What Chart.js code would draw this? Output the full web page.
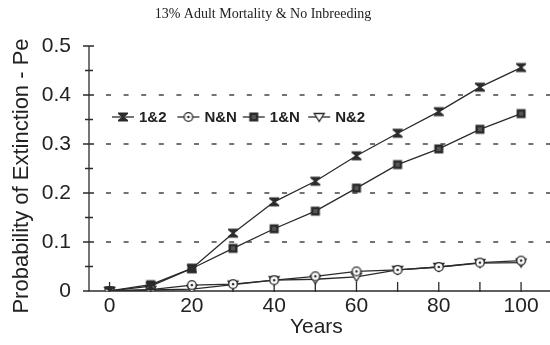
<!DOCTYPE html>
<html>
<head>
<meta charset="utf-8">
<script src="https://cdn.jsdelivr.net/npm/chart.js@4.4.1/dist/chart.umd.min.js"></script>
<style>
  html, body { margin: 0; padding: 0; background: #ffffff; }
  #wrap { width: 550px; height: 345px; }
</style>
</head>
<body>
<div id="wrap"><canvas id="c" width="550" height="345"></canvas></div>
<script>
// Simulation time points (years)
const years = [0, 10, 20, 30, 40, 50, 60, 70, 80, 90, 100];

// Probability of extinction per scenario
const pe12 = [0, 0.010, 0.046, 0.118, 0.182, 0.224, 0.276, 0.322, 0.366, 0.416, 0.456];
const peNN = [0, 0.003, 0.012, 0.014, 0.022, 0.030, 0.040, 0.043, 0.049, 0.058, 0.062];
const pe1N = [0, 0.013, 0.046, 0.087, 0.127, 0.163, 0.210, 0.258, 0.290, 0.330, 0.362];
const peN2 = [0, 0.002, 0.004, 0.013, 0.022, 0.024, 0.029, 0.043, 0.049, 0.057, 0.058];

const seriesNames = ['1&2', 'N&N', '1&N', 'N&2'];

// Axis ticks
const xTicks = [0, 20, 40, 60, 80, 100];
const xMinorTicks = [0, 10, 20, 30, 40, 50, 60, 70, 80, 90, 100];
const yTicks = [0, 0.1, 0.2, 0.3, 0.4, 0.5];
const yMinorTicks = [0.05, 0.15, 0.25, 0.35, 0.45];
const yGridLines = [0.1, 0.2, 0.3, 0.4];

const chartTitle = '13% Adult Mortality & No Inbreeding';
const xTitle = 'Years';
const yTitle = 'Probability of Extinction - Pe';

const INK = '#2b2b2b';
const SANS = '"Liberation Sans", Arial, Helvetica, sans-serif';

// Marker images
function makeMarker(kind) {
  const s = 14;
  const cv = document.createElement('canvas');
  cv.width = s; cv.height = s;
  const g = cv.getContext('2d');
  g.translate(s / 2, s / 2);
  g.lineWidth = 1.3;
  g.strokeStyle = INK;
  g.fillStyle = INK;
  if (kind === 'hourglass') {
    g.beginPath();
    g.moveTo(-5, -4.5); g.lineTo(5, -4.5); g.lineTo(5, -3); g.lineTo(1.2, 0);
    g.lineTo(5, 3); g.lineTo(5, 4.5); g.lineTo(-5, 4.5); g.lineTo(-5, 3);
    g.lineTo(-1.2, 0); g.lineTo(-5, -3); g.closePath();
    g.fill();
  } else if (kind === 'circle') {
    g.fillStyle = '#ffffff';
    g.beginPath(); g.arc(0, 0, 4.3, 0, Math.PI * 2); g.fill(); g.stroke();
    g.fillStyle = INK;
    g.beginPath(); g.arc(0, 0, 1.3, 0, Math.PI * 2); g.fill();
  } else if (kind === 'square') {
    g.fillRect(-4.5, -4.5, 9, 9);
    g.fillStyle = '#555';
    g.fillRect(-2, -2, 4, 4);
  } else if (kind === 'triangle') {
    g.fillStyle = '#ffffff';
    g.beginPath();
    g.moveTo(-5, -3.5); g.lineTo(5, -3.5); g.lineTo(0, 4.5); g.closePath();
    g.fill(); g.stroke();
  }
  return cv;
}

const markers = [makeMarker('hourglass'), makeMarker('circle'), makeMarker('square'), makeMarker('triangle')];
const seriesValues = [pe12, peNN, pe1N, peN2];

const datasets = seriesNames.map((name, i) => ({
  label: name,
  data: years.map((x, k) => ({ x: x, y: seriesValues[i][k] })),
  borderColor: INK,
  borderWidth: 1.3,
  pointStyle: markers[i],
  pointRadius: 5,
  pointHoverRadius: 5,
  fill: false,
  tension: 0
}));

// Axes, dashed reference lines, tick marks, titles and in-plot legend
const decorations = {
  id: 'decorations',
  beforeDatasetsDraw(chart) {
    const { ctx, chartArea, scales } = chart;
    const xs = scales.x, ys = scales.y;
    const x0 = chartArea.left, y0 = ys.getPixelForValue(0);
    ctx.save();
    // dashed horizontal lines
    ctx.strokeStyle = '#444';
    ctx.lineWidth = 1.5;
    ctx.setLineDash([5, 12.6]);
    yGridLines.forEach(v => {
      const y = ys.getPixelForValue(v);
      ctx.beginPath(); ctx.moveTo(x0 + 17, y); ctx.lineTo(chart.width, y); ctx.stroke();
    });
    ctx.setLineDash([]);
    // axis lines
    ctx.strokeStyle = INK;
    ctx.lineWidth = 1.3;
    ctx.beginPath();
    ctx.moveTo(x0, ys.getPixelForValue(0.5));
    ctx.lineTo(x0, y0);
    ctx.lineTo(chart.width, y0);
    ctx.stroke();
    // y ticks (crossing the axis)
    ctx.beginPath();
    yTicks.forEach(v => {
      const y = ys.getPixelForValue(v);
      if (v === 0) { ctx.moveTo(x0 - 6, y); ctx.lineTo(x0, y); }
      else { ctx.moveTo(x0 - 6, y); ctx.lineTo(x0 + 5, y); }
    });
    yMinorTicks.forEach(v => {
      const y = ys.getPixelForValue(v);
      ctx.moveTo(x0 - 4, y); ctx.lineTo(x0 + 4, y);
    });
    // x ticks
    xMinorTicks.forEach(v => {
      const x = xs.getPixelForValue(v);
      ctx.moveTo(x, y0 - 9); ctx.lineTo(x, y0 + 1);
    });
    ctx.stroke();
    ctx.restore();
  },
  afterDraw(chart) {
    const { ctx } = chart;
    ctx.save();
    // chart title
    ctx.fillStyle = '#222';
    ctx.font = '14px "Liberation Serif", "Times New Roman", serif';
    ctx.textAlign = 'center';
    ctx.textBaseline = 'middle';
    ctx.fillText(chartTitle, 263, 14);
    // vertical axis title
    ctx.save();
    ctx.translate(22, 176);
    ctx.rotate(-Math.PI / 2);
    ctx.font = '22px ' + SANS;
    ctx.fillText(yTitle, 0, 0);
    ctx.restore();
    // legend inside the plot
    const ly = 117;
    ctx.font = 'bold 15px ' + SANS;
    ctx.textAlign = 'left';
    chart.data.datasets.forEach((ds, i) => {
      const sx = 112 + i * 65.4;
      ctx.strokeStyle = INK;
      ctx.lineWidth = 1.3;
      ctx.beginPath(); ctx.moveTo(sx, ly); ctx.lineTo(sx + 22, ly); ctx.stroke();
      const m = ds.pointStyle;
      ctx.drawImage(m, sx + 11 - m.width / 2, ly - m.height / 2);
      ctx.fillStyle = '#222';
      ctx.fillText(ds.label, sx + 27, ly + 1);
    });
    ctx.restore();
  }
};

const sansFont = { family: SANS, size: 21 };

new Chart(document.getElementById('c'), {
  type: 'line',
  data: { datasets: datasets },
  options: {
    responsive: false,
    animation: false,
    events: [],
    layout: { padding: { top: 46, right: 1, left: 0, bottom: 0 } },
    plugins: {
      legend: { display: false },
      title: { display: false },
      tooltip: { enabled: false }
    },
    scales: {
      x: {
        type: 'linear',
        min: -5,
        max: 105.5,
        afterBuildTicks: s => { s.ticks = xTicks.map(v => ({ value: v })); },
        afterFit: s => { s.height = 54; },
        grid: { display: false, drawTicks: false },
        border: { display: false },
        ticks: { color: '#222', font: sansFont, padding: 3, maxRotation: 0, autoSkip: false },
        title: { display: true, text: xTitle, color: '#222', font: sansFont, padding: { top: 0, bottom: 5 } }
      },
      y: {
        type: 'linear',
        min: 0,
        max: 0.5,
        afterBuildTicks: s => { s.ticks = yTicks.map(v => ({ value: v })); },
        afterFit: s => { s.width = 89; },
        grid: { display: false, drawTicks: false },
        border: { display: false },
        ticks: {
          color: '#222', font: sansFont, padding: 18, autoSkip: false,
          callback: v => (v === 0 ? '0' : v.toFixed(1))
        },
        title: { display: false }
      }
    }
  },
  plugins: [decorations]
});
</script>
</body>
</html>
